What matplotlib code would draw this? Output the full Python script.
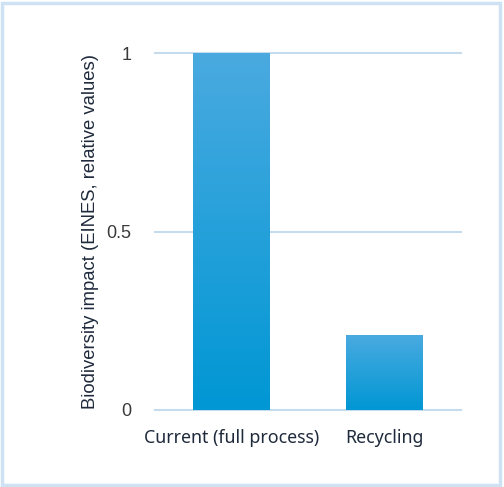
import numpy as np
import matplotlib
matplotlib.use("Agg")
import matplotlib.pyplot as plt
from matplotlib.colors import LinearSegmentedColormap
from matplotlib.patches import Rectangle

categories = ["Current (full process)", "Recycling"]
values = [1.0, 0.21]
yticks = [0, 0.5, 1]
ytick_labels = ["0", "0.5", "1"]

fig = plt.figure(figsize=(5.04, 4.87), dpi=100)
fig.patch.set_facecolor("white")

# light blue frame round the whole picture
fig.patches.append(Rectangle((0.003, 0.004), 0.99, 0.99, transform=fig.transFigure,
                             fill=False, edgecolor="#cfe2f3", linewidth=2.5))

ax = fig.add_axes([155 / 504, 77 / 487, 306 / 504, 357 / 487])

for y in yticks:
    ax.axhline(y, color="#c5dcee", linewidth=1.5, zorder=1, clip_on=False)

cmap = LinearSegmentedColormap.from_list("bar", ["#0097d4", "#4aaae0"])
grad = np.linspace(0, 1, 256).reshape(-1, 1)
width = 0.5
for i, v in enumerate(values):
    ax.imshow(grad, cmap=cmap, origin="lower", aspect="auto",
              extent=(i - width / 2, i + width / 2, 0, v), zorder=2)
ax.set_xlim(-0.5, 1.5)
ax.set_ylim(0, 1)

for s in ax.spines.values():
    s.set_visible(False)
ax.tick_params(length=0)
ax.set_xticks(range(len(categories)))
ax.set_xticklabels(categories, fontsize=12.8, color="#1f2a3c", family="Noto Sans",
                   fontweight="medium")
ax.tick_params(axis="x", pad=14)
ax.set_yticks(yticks)
ax.set_yticklabels(ytick_labels, fontsize=13, color="#3a3a3a", family="Liberation Sans")
ax.tick_params(axis="y", pad=17)
ax.set_ylabel("Biodiversity impact (EINES, relative values)", fontsize=13.3,
              color="#1f2a3c", family="Liberation Sans", labelpad=5)

fig.savefig("out.png", dpi=100)
